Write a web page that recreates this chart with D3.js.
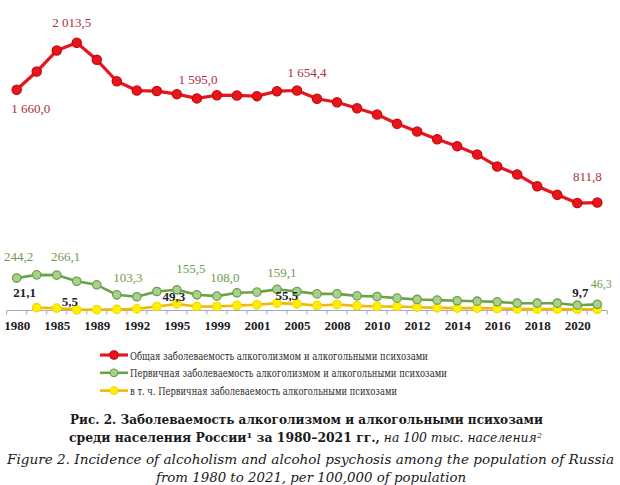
<!DOCTYPE html>
<html>
<head>
<meta charset="utf-8">
<script src="https://cdn.jsdelivr.net/npm/d3@7"></script>
<style>
  body { margin: 0; background: #fff; }
  svg { display: block; }
  .tick text { font-family: "Liberation Serif", serif; font-weight: bold; font-size: 13px; fill: #1a1a1a; }
</style>
</head>
<body>
<script>
// годы (на оси подписан каждый второй)
var years = ["1980","1983","1985","1987","1989","1990","1992","1993","1995","1997",
             "1999","2000","2001","2003","2005","2007","2008","2009","2010","2011",
             "2012","2013","2014","2015","2016","2017","2018","2019","2020","2021"];

// общая заболеваемость
var obshaya = [1660.0, 1797, 1955, 2013.5, 1885, 1724, 1654, 1650, 1627, 1595.0,
               1619, 1617, 1612, 1649, 1654.4, 1592, 1566, 1521, 1474, 1404,
               1346, 1288, 1236, 1173, 1083, 1023, 935, 870, 808, 811.8];

// первичная заболеваемость
var pervichnaya = [244.2, 268, 266.1, 220, 193, 118, 103.3, 143, 155.5, 118,
                   108.0, 133, 138, 159.1, 143, 125, 125, 110, 105, 93,
                   83, 78, 73, 70, 65, 55, 55, 55, 40, 46.3];

// в т.ч. психозы (1980 нет точки)
var psihozy = [null, 21.1, 18, 5.5, 7, 8, 12, 30, 49.3, 30,
               30, 38, 43, 55.5, 50, 38, 45, 35, 30, 30,
               25, 20, 18, 18, 15, 12, 10, 10, 9.7, 9.7];

var legendLabels = [
    "Общая заболеваемость алкоголизмом и алкогольными психозами",
    "Первичная заболеваемость алкоголизмом и алкогольными психозами",
    "в т. ч. Первичная заболеваемость алкогольными психозами"
];
var legendWidths = [298, 317, 267];

// подписи значений: [ряд, индекс, dx, dy]
var pointLabels = [
    [0, 0, 14, 23], [0, 3, -5, -16], [0, 9, 1, -14], [0, 14, 10, -14], [0, 29, -10, -22],
    [1, 0, 2, -17], [1, 2, 9, -14], [1, 6, -9, -15], [1, 8, 14, -17], [1, 10, 8, -14], [1, 13, 5, -12], [1, 29, 4, -16],
    [2, 1, -12, -11], [2, 3, -7, -4], [2, 8, -3, -3], [2, 13, 10, -3], [2, 28, 3, -12]
];

var W = 620, H = 485;
var svg = d3.select("body").append("svg")
    .attr("width", W)
    .attr("height", H);

var x = d3.scalePoint().domain(years).range([16.7, 597.3]);
var y = d3.scaleLinear().domain([0, 2200]).range([310.5, 310.5 - 2200 / 7.52]);

var series = [
    {values: obshaya, line: "#e8161c", width: 3.2, r: 4.6, fill: "#e8161c", stroke: "#c8080e", label: "#a8303a", weight: "normal"},
    {values: pervichnaya, line: "#6aa346", width: 2.6, r: 4.2, fill: "#a9d08e", stroke: "#6aa346", label: "#6e9a4e", weight: "normal"},
    {values: psihozy, line: "#f2b800", width: 2.6, r: 4.2, fill: "#fff200", stroke: "#f8d800", label: "#222", weight: "bold"}
];

// ось X
var axisG = svg.append("g").attr("transform", "translate(0,310.5)");
axisG.call(d3.axisBottom(x)
        .tickValues(years.filter(function(d, i){ return i % 2 == 0; }))
        .tickSize(0)
        .tickPadding(10))
    .call(function(g){ g.select(".domain").remove(); });

axisG.append("line")
    .attr("x1", x(years[0]) - x.step() / 2)
    .attr("x2", x(years[years.length-1]) + x.step() / 2)
    .attr("stroke", "#a3a9c4")
    .attr("stroke-width", 1.2);

axisG.selectAll("line.minor")
    .data(years.concat(["end"]))
    .enter().append("line")
    .attr("class", "minor")
    .attr("x1", function(d, i){ return x(years[0]) + (i - 0.5) * x.step(); })
    .attr("x2", function(d, i){ return x(years[0]) + (i - 0.5) * x.step(); })
    .attr("y1", 0)
    .attr("y2", 4)
    .attr("stroke", "#a3a9c4");

// линии и маркеры, снизу вверх
[2, 1, 0].forEach(function(k){
    var s = series[k];
    var line = d3.line()
        .defined(function(d){ return d != null; })
        .x(function(d, i){ return x(years[i]); })
        .y(function(d){ return y(d); });

    svg.append("path")
        .datum(s.values)
        .attr("d", line)
        .attr("fill", "none")
        .attr("stroke", s.line)
        .attr("stroke-width", s.width)
        .attr("stroke-linejoin", "round");

    svg.append("g").selectAll("circle")
        .data(s.values.map(function(v, i){ return {v: v, i: i}; }).filter(function(d){ return d.v != null; }))
        .enter().append("circle")
        .attr("cx", function(d){ return x(years[d.i]); })
        .attr("cy", function(d){ return y(d.v); })
        .attr("r", s.r)
        .attr("fill", s.fill)
        .attr("stroke", s.stroke)
        .attr("stroke-width", 1.3);
});

// подписи значений
function fmt(v){
    var str = v.toFixed(1).replace(".", ",");
    var parts = str.split(",");
    if(parts[0].length > 3)
        parts[0] = parts[0].slice(0, parts[0].length - 3) + " " + parts[0].slice(-3);
    return parts.join(",");
}

svg.append("g").selectAll("text")
    .data(pointLabels)
    .enter().append("text")
    .attr("x", function(d){ return x(years[d[1]]) + d[2]; })
    .attr("y", function(d){ return y(series[d[0]].values[d[1]]) + d[3]; })
    .attr("text-anchor", "middle")
    .style("font-family", "'Liberation Serif', serif")
    .style("font-size", function(d){ return d[0] == 1 && d[1] == 29 ? "12px" : "13px"; })
    .style("font-weight", function(d){ return series[d[0]].weight; })
    .attr("fill", function(d){ return series[d[0]].label; })
    .text(function(d){ return fmt(series[d[0]].values[d[1]]); });

// легенда
var legend = svg.append("g").attr("transform", "translate(100,355)");
legendLabels.forEach(function(lbl, i){
    var s = series[i];
    var g = legend.append("g").attr("transform", "translate(0," + (i * 17.8) + ")");
    g.append("line")
        .attr("x1", 0).attr("x2", 28)
        .attr("stroke", s.line)
        .attr("stroke-width", s.width);
    g.append("circle")
        .attr("cx", 14).attr("r", s.r - 0.4)
        .attr("fill", s.fill)
        .attr("stroke", s.stroke)
        .attr("stroke-width", 1.2);
    g.append("text")
        .attr("x", 30)
        .attr("y", 4.5)
        .attr("textLength", legendWidths[i])
        .attr("lengthAdjust", "spacingAndGlyphs")
        .style("font-family", "'DejaVu Serif', serif")
        .style("font-size", "11.5px")
        .attr("fill", "#2a2a2a")
        .text(lbl);
});

// подпись рисунка
var cap = svg.append("g").attr("text-anchor", "middle");
cap.append("text")
    .attr("x", 306.5).attr("y", 424)
    .attr("textLength", 473)
    .attr("lengthAdjust", "spacingAndGlyphs")
    .style("font-family", "'DejaVu Serif', serif")
    .style("font-weight", "bold")
    .style("font-size", "12px")
    .attr("fill", "#1a1a1a")
    .text("Рис. 2. Заболеваемость алкоголизмом и алкогольными психозами");

var l2 = cap.append("text")
    .attr("x", 305.5).attr("y", 442)
    .attr("textLength", 473)
    .attr("lengthAdjust", "spacingAndGlyphs")
    .style("font-family", "'DejaVu Serif', serif")
    .style("font-size", "12px")
    .attr("fill", "#1a1a1a");
l2.append("tspan").style("font-weight", "bold").text("среди населения России");
l2.append("tspan").style("font-weight", "bold").attr("dy", -4).style("font-size", "8px").text("1");
l2.append("tspan").style("font-weight", "bold").attr("dy", 4).text(" за 1980–2021 гг.,");
l2.append("tspan").style("font-style", "italic").text(" на 100 тыс. населения");
l2.append("tspan").style("font-style", "italic").attr("dy", -4).style("font-size", "8px").text("2");

cap.append("text")
    .attr("x", 310.5).attr("y", 464)
    .attr("textLength", 607)
    .attr("lengthAdjust", "spacingAndGlyphs")
    .style("font-family", "'DejaVu Serif', serif")
    .style("font-style", "italic")
    .style("font-size", "13px")
    .attr("fill", "#1a1a1a")
    .text("Figure 2. Incidence of alcoholism and alcohol psychosis among the population of Russia");

cap.append("text")
    .attr("x", 311).attr("y", 482)
    .attr("textLength", 310)
    .attr("lengthAdjust", "spacingAndGlyphs")
    .style("font-family", "'DejaVu Serif', serif")
    .style("font-style", "italic")
    .style("font-size", "13px")
    .attr("fill", "#1a1a1a")
    .text("from 1980 to 2021, per 100,000 of population");
</script>
</body>
</html>
